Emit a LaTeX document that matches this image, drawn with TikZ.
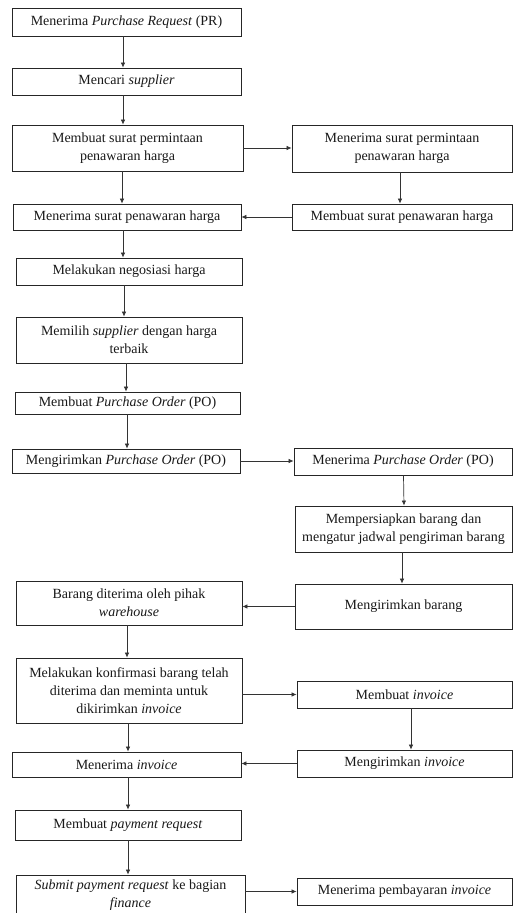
\documentclass[tikz,border=0pt]{standalone}
\usepackage{fontspec}
\setmainfont{Liberation Serif}
\usetikzlibrary{arrows.meta}
\begin{document}
\begin{tikzpicture}[x=1pt,y=-1pt,
  box/.style={draw=black!85, line width=0.8pt, rectangle, inner sep=0pt, align=center,
    font=\fontsize{14}{18}\selectfont, text=black!90},
  arr/.style={draw=black!80, line width=0.7pt, -{Latex[length=5pt,width=4.5pt]}}]
\useasboundingbox (0,0) rectangle (513,913);
\clip (0,0) rectangle (513,913);
\fill[white] (0,0) rectangle (513,913);
% left column
\node[box, minimum width=229pt, minimum height=28pt] (b1) at (126.5,22) {Menerima \textit{Purchase Request} (PR)};
\node[box, minimum width=229pt, minimum height=27pt] (b2) at (126.5,81.5) {Mencari \textit{supplier}};
\node[box, minimum width=231pt, minimum height=46pt] (b3) at (127.5,148) {Membuat surat permintaan\\penawaran harga};
\node[box, minimum width=228pt, minimum height=26pt] (b4) at (127,217) {Menerima surat penawaran harga};
\node[box, minimum width=226pt, minimum height=27pt] (b5) at (129,271.5) {Melakukan negosiasi harga};
\node[box, minimum width=226pt, minimum height=46pt] (b6) at (129,340) {Memilih \textit{supplier} dengan harga\\terbaik};
\node[box, minimum width=225pt, minimum height=22pt] (b7) at (127.5,403) {Membuat \textit{Purchase Order} (PO)};
\node[box, minimum width=228pt, minimum height=24pt] (b8) at (126,461) {Mengirimkan \textit{Purchase Order} (PO)};
\node[box, minimum width=226pt, minimum height=44pt] (b9) at (129,603) {Barang diterima oleh pihak\\\textit{warehouse}};
\node[box, minimum width=226pt, minimum height=65pt] (b10) at (129,690.5) {Melakukan konfirmasi barang telah\\diterima dan meminta untuk\\dikirimkan \textit{invoice}};
\node[box, minimum width=229pt, minimum height=25pt] (b11) at (126.5,764.5) {Menerima \textit{invoice}};
\node[box, minimum width=226pt, minimum height=30pt] (b12) at (128,825) {Membuat \textit{payment request}};
\node[box, minimum width=229pt, minimum height=41pt] (b13) at (130.5,895.5) {\textit{Submit payment request} ke bagian\\\textit{finance}};
% right column
\node[box, minimum width=220pt, minimum height=47pt] (r1) at (402,148.5) {Menerima surat permintaan\\penawaran harga};
\node[box, minimum width=220pt, minimum height=26pt] (r2) at (402,217) {Membuat surat penawaran harga};
\node[box, minimum width=218pt, minimum height=27pt] (r3) at (403,461.5) {Menerima \textit{Purchase Order} (PO)};
\node[box, minimum width=217pt, minimum height=46pt] (r4) at (403.5,529) {Mempersiapkan barang dan\\mengatur jadwal pengiriman barang};
\node[box, minimum width=217pt, minimum height=45pt] (r5) at (403.5,606.5) {Mengirimkan barang};
\node[box, minimum width=215pt, minimum height=27pt] (r6) at (404.5,694.5) {Membuat \textit{invoice}};
\node[box, minimum width=215pt, minimum height=27pt] (r7) at (404.5,763.5) {Mengirimkan \textit{invoice}};
\node[box, minimum width=215pt, minimum height=27pt] (r8) at (404.5,891.5) {Menerima pembayaran \textit{invoice}};
% vertical arrows left
\draw[arr] ([xshift=-3.5pt]b1.south) -- ([xshift=-3.5pt]b2.north);
\draw[arr] ([xshift=-3.5pt]b2.south) -- ([xshift=-4.5pt]b3.north);
\draw[arr] ([xshift=-5.5pt]b3.south) -- ([xshift=-5pt]b4.north);
\draw[arr] ([xshift=-4pt]b4.south) -- ([xshift=-6pt]b5.north);
\draw[arr] ([xshift=-5pt]b5.south) -- ([xshift=-5pt]b6.north);
\draw[arr] ([xshift=-3pt]b6.south) -- ([xshift=-1.5pt]b7.north);
\draw[arr] ([xshift=-0.5pt]b7.south) -- ([xshift=1pt]b8.north);
\draw[arr] ([xshift=-2pt]b9.south) -- ([xshift=-2pt]b10.north);
\draw[arr] ([xshift=-1pt]b10.south) -- ([xshift=1.5pt]b11.north);
\draw[arr] ([xshift=1.5pt]b11.south) -- (b12.north);
\draw[arr] (b12.south) -- ([xshift=-2.5pt]b13.north);
% vertical arrows right
\draw[arr] ([xshift=-2pt]r1.south) -- ([xshift=-2pt]r2.north);
\draw[arr] ([xshift=0.5pt]r3.south) -- ([xshift=0.5pt]r4.north);
\draw[arr] ([xshift=-1.5pt]r4.south) -- ([xshift=-1.5pt]r5.north);
\draw[arr] ([xshift=6.5pt]r6.south) -- ([xshift=6.5pt]r7.north);
% horizontal arrows
\draw[arr] (b3.east) -- (b3.east -| r1.west);
\draw[arr] (r2.west) -- (r2.west -| b4.east);
\draw[arr] (b8.east) -- (b8.east -| r3.west);
\draw[arr] (r5.west) -- (r5.west -| b9.east);
\draw[arr] (b10.east |- r6.west) -- (r6.west);
\draw[arr] (r7.west) -- (r7.west -| b11.east);
\draw[arr] (b13.east |- r8.west) -- (r8.west);
\end{tikzpicture}
\end{document}
